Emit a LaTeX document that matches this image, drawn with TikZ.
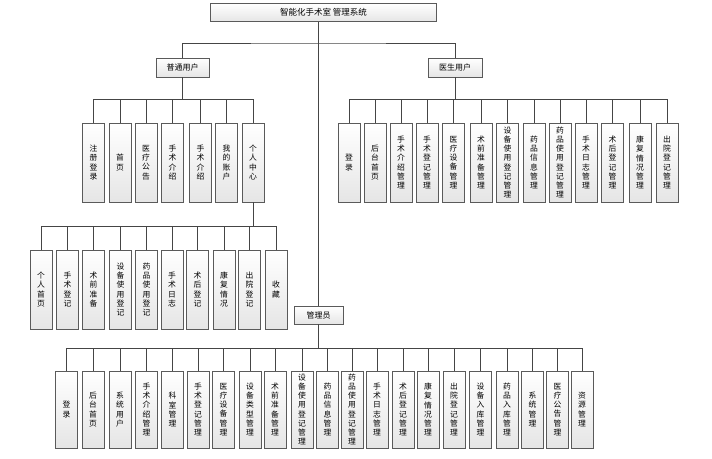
\documentclass[tikz,border=0pt]{standalone}
\usepackage{fontspec}
\setmainfont{Noto Sans CJK SC}
\definecolor{boxline}{HTML}{5A5A5A}
\definecolor{conn}{HTML}{454545}
\tikzset{
  x=1pt, y=-1pt,
  boxbase/.style={draw=boxline, line width=0.9pt, top color=white, bottom color=black!10, inner sep=0pt, align=center},
  hbox/.style={boxbase, font=\fontsize{8}{10}\selectfont},
  vbox/.style={boxbase, minimum width=22pt, minimum height=79pt, text width=10pt, font=\fontsize{7.8}{9.2}\selectfont},
  abox/.style={vbox, minimum height=77pt},
  conline/.style={draw=conn, line width=0.9pt}
}
\begin{document}
\begin{tikzpicture}
\useasboundingbox (0,0) rectangle (712,458);
% top level
\node[hbox, minimum width=226pt, minimum height=18pt, font=\fontsize{8.5}{10}\selectfont] (root) at (323.5,12.5) {智能化手术室 管理系统};
\node[hbox, minimum width=53pt, minimum height=19pt] (pt) at (182.5,67.5) {普通用户};
\node[hbox, minimum width=54pt, minimum height=19pt] (doc) at (455,67.5) {医生用户};
\node[hbox, minimum width=49pt, minimum height=18pt] (mgr) at (318.5,315) {管理员};
\coordinate (jt) at (318,43);
\draw[conline] (mgr.north |- root.south) -- (mgr.north);
\draw[conline] (pt.north) |- (jt) -| (doc.north);

% 普通用户 children
\node[vbox] (p1) at (93.5,162.5) {注\\册\\登\\录};
\node[vbox] (p2) at (120,162.5) {首\\页};
\node[vbox] (p3) at (146,162.5) {医\\疗\\公\\告};
\node[vbox] (p4) at (172.5,162.5) {手\\术\\介\\绍};
\node[vbox] (p5) at (200.5,162.5) {手\\术\\介\\绍};
\node[vbox] (p6) at (226.5,162.5) {我\\的\\账\\户};
\node[vbox] (p7) at (253,162.5) {个\\人\\中\\心};
\coordinate (ptbus) at (0,99);
\draw[conline] (pt.south) -- (pt.south |- ptbus);
\draw[conline] (p1.north |- ptbus) -- (p7.north |- ptbus);
\foreach \i in {1,...,7} \draw[conline] (p\i.north) -- (p\i.north |- ptbus);

% 个人中心 children
\node[vbox] (c1) at (41,289.5) {个\\人\\首\\页};
\node[vbox] (c2) at (67.5,289.5) {手\\术\\登\\记};
\node[vbox] (c3) at (93.5,289.5) {术\\前\\准\\备};
\node[vbox] (c4) at (120.5,289.5) {设\\备\\使\\用\\登\\记};
\node[vbox] (c5) at (146.5,289.5) {药\\品\\使\\用\\登\\记};
\node[vbox] (c6) at (172,289.5) {手\\术\\日\\志};
\node[vbox] (c7) at (197.5,289.5) {术\\后\\登\\记};
\node[vbox] (c8) at (224,289.5) {康\\复\\情\\况};
\node[vbox] (c9) at (249.5,289.5) {出\\院\\登\\记};
\node[vbox] (c10) at (276,289.5) {收\\藏};
\coordinate (cbus) at (0,226);
\draw[conline] (p7.south) -- (p7.south |- cbus);
\draw[conline] (c1.north |- cbus) -- (c10.north |- cbus);
\foreach \i in {1,...,10} \draw[conline] (c\i.north) -- (c\i.north |- cbus);

% 医生用户 children
\node[vbox] (d1) at (349,162.5) {登\\录};
\node[vbox] (d2) at (375,162.5) {后\\台\\首\\页};
\node[vbox] (d3) at (401,162.5) {手\\术\\介\\绍\\管\\理};
\node[vbox] (d4) at (427,162.5) {手\\术\\登\\记\\管\\理};
\node[vbox] (d5) at (453.5,162.5) {医\\疗\\设\\备\\管\\理};
\node[vbox] (d6) at (481,162.5) {术\\前\\准\\备\\管\\理};
\node[vbox] (d7) at (507.5,162.5) {设\\备\\使\\用\\登\\记\\管\\理};
\node[vbox] (d8) at (534,162.5) {药\\品\\信\\息\\管\\理};
\node[vbox] (d9) at (560,162.5) {药\\品\\使\\用\\登\\记\\管\\理};
\node[vbox] (d10) at (586,162.5) {手\\术\\日\\志\\管\\理};
\node[vbox] (d11) at (612.5,162.5) {术\\后\\登\\记\\管\\理};
\node[vbox] (d12) at (640,162.5) {康\\复\\情\\况\\管\\理};
\node[vbox] (d13) at (667,162.5) {出\\院\\登\\记\\管\\理};
\coordinate (dbus) at (0,99);
\draw[conline] (doc.south) -- (doc.south |- dbus);
\draw[conline] (d1.north |- dbus) -- (d13.north |- dbus);
\foreach \i in {1,...,13} \draw[conline] (d\i.north) -- (d\i.north |- dbus);

% 管理员 children
\node[abox] (a1) at (66.5,409.5) {登\\录};
\node[abox] (a2) at (93,409.5) {后\\台\\首\\页};
\node[abox] (a3) at (120,409.5) {系\\统\\用\\户};
\node[abox] (a4) at (146.5,409.5) {手\\术\\介\\绍\\管\\理};
\node[abox] (a5) at (172.5,409.5) {科\\室\\管\\理};
\node[abox] (a6) at (198,409.5) {手\\术\\登\\记\\管\\理};
\node[abox] (a7) at (223.5,409.5) {医\\疗\\设\\备\\管\\理};
\node[abox] (a8) at (250,409.5) {设\\备\\类\\型\\管\\理};
\node[abox] (a9) at (275,409.5) {术\\前\\准\\备\\管\\理};
\node[abox] (a10) at (302,409.5) {设\\备\\使\\用\\登\\记\\管\\理};
\node[abox] (a11) at (327.5,409.5) {药\\品\\信\\息\\管\\理};
\node[abox] (a12) at (352,409.5) {药\\品\\使\\用\\登\\记\\管\\理};
\node[abox] (a13) at (377,409.5) {手\\术\\日\\志\\管\\理};
\node[abox] (a14) at (403,409.5) {术\\后\\登\\记\\管\\理};
\node[abox] (a15) at (428,409.5) {康\\复\\情\\况\\管\\理};
\node[abox] (a16) at (454,409.5) {出\\院\\登\\记\\管\\理};
\node[abox] (a17) at (480.5,409.5) {设\\备\\入\\库\\管\\理};
\node[abox] (a18) at (507,409.5) {药\\品\\入\\库\\管\\理};
\node[abox] (a19) at (532.5,409.5) {系\\统\\管\\理};
\node[abox] (a20) at (557.5,409.5) {医\\疗\\公\\告\\管\\理};
\node[abox] (a21) at (582,409.5) {资\\源\\管\\理};
\coordinate (abus) at (0,348);
\draw[conline] (mgr.south) -- (mgr.south |- abus);
\draw[conline] (a1.north |- abus) -- (a21.north |- abus);
\foreach \i in {1,...,21} \draw[conline] (a\i.north) -- (a\i.north |- abus);
\end{tikzpicture}
\end{document}
